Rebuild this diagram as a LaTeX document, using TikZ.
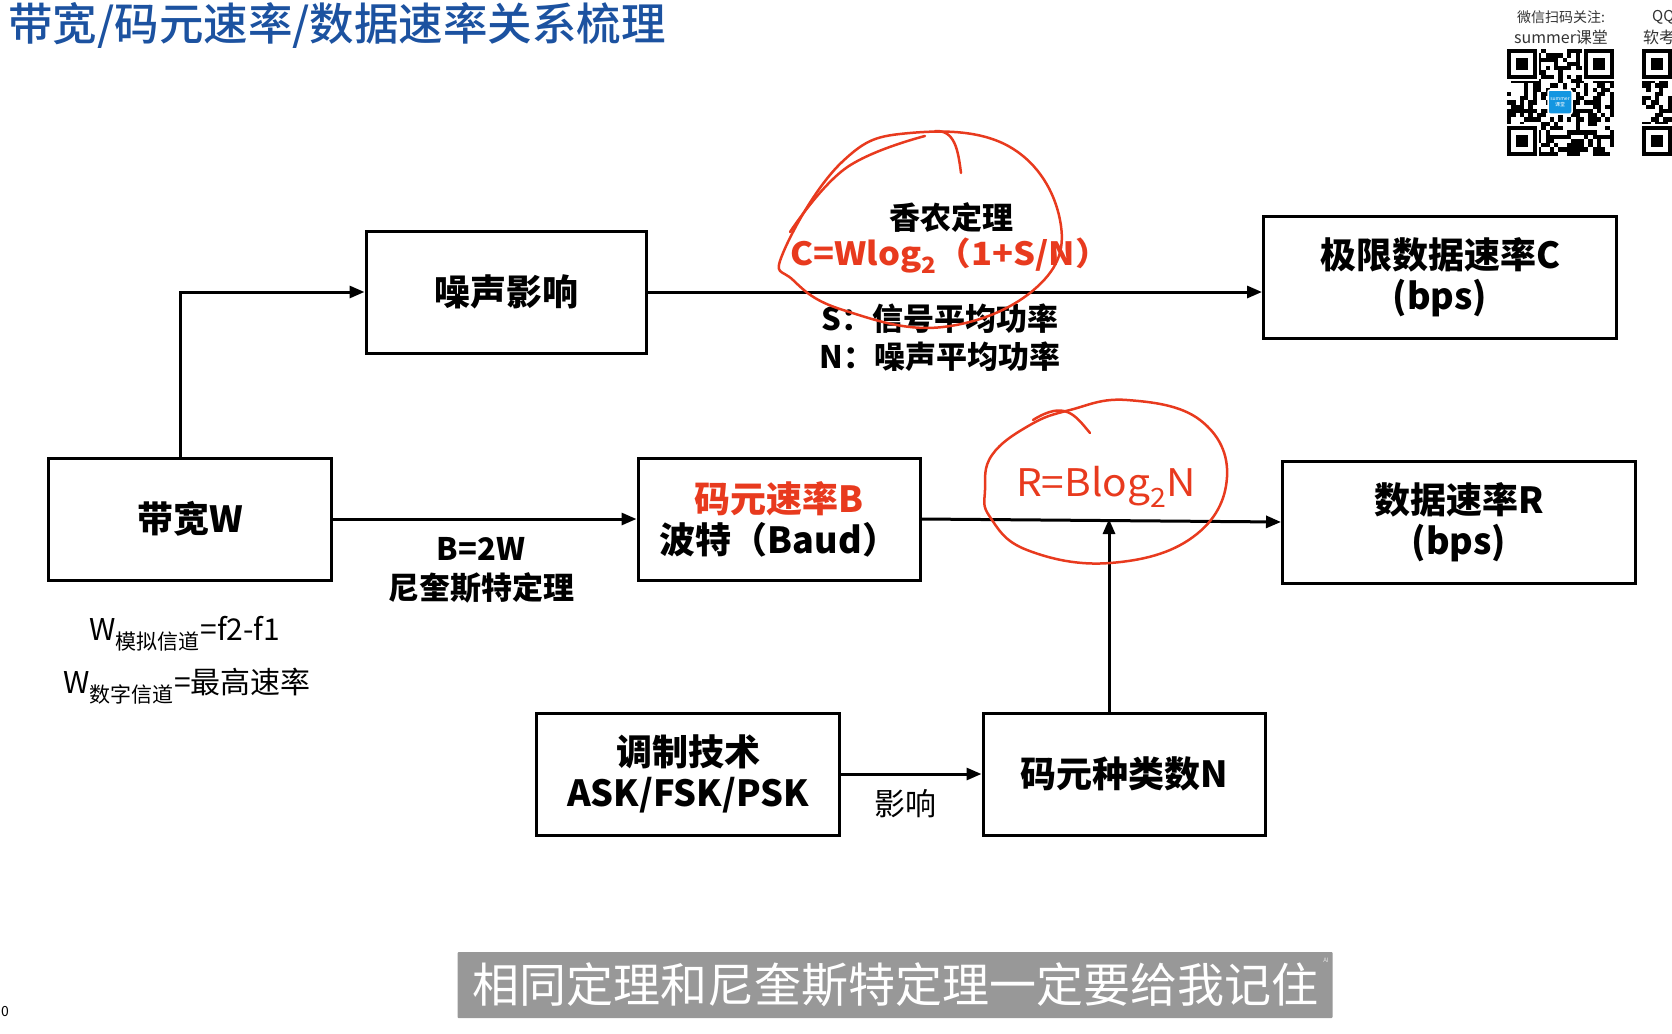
\documentclass[tikz,border=0pt]{standalone}
\usepackage{fontspec}
\setmainfont{Noto Sans CJK SC}
\newfontfamily\titlefont{Noto Sans CJK SC}[UprightFont={* Medium}]
\usetikzlibrary{arrows.meta}
\definecolor{inkred}{RGB}{232,58,30}
\definecolor{titleblue}{RGB}{28,82,160}
\definecolor{capgray}{RGB}{152,152,152}
\definecolor{logoblue}{RGB}{20,150,225}

\begin{document}
\begin{tikzpicture}[x=1pt,y=-1pt,
	>={Triangle[length=15pt,width=12pt]},
	box/.style={draw=black,line width=3pt,minimum height=122pt,align=center,inner sep=0pt,font=\fontsize{36}{41}\selectfont\bfseries},
	link/.style={->,line width=3pt},
	note/.style={align=center,inner sep=0pt,font=\fontsize{31}{38}\selectfont\bfseries},
	pen/.style={draw=inkred,line width=2.5pt,line cap=round,line join=round}]
			\useasboundingbox (0,0) rectangle (1672,1033);
			
			% title
			\node[anchor=west,inner sep=0pt,text=titleblue,font=\fontsize{44.5}{44.5}\titlefont] (title) at (8,25) {带宽/码元速率/数据速率关系梳理};
			
			% boxes
			\node[box,minimum width=280pt] (noise) at (506,292) {噪声影响};
			\node[box,minimum width=353pt] (limit) at (1440,277) {极限数据速率C\\(bps)};
			\node[box,minimum width=283pt] (bw) at (190,519) {带宽W};
			\node[box,minimum width=282pt] (baud) at (779,519) {\textcolor{inkred}{码元速率B}\\波特（Baud）};
			\node[box,minimum width=353pt] (rate) at (1459,522) {数据速率R\\(bps)};
			\node[box,minimum width=303pt] (mod) at (688,774) {调制技术\\ASK/FSK/PSK};
			\node[box,minimum width=282pt] (kind) at (1124,774) {码元种类数N};
			
			% links
			\draw[link] ([xshift=-10pt]bw.north) |- (noise.west);
			\draw[link] (noise.east) -- (noise.east -| limit.west);
			\draw[link] (bw.east) -- (baud.west);
			\draw[link] (baud.east) -- (rate.west);
			\draw[link] ([xshift=-15pt]kind.north) -- ([xshift=-15pt]kind.north |- baud.east);
			\draw[link] (mod.east) -- (kind.west);
			
			% labels
			\node[note] (shannon) at (951,218) {香农定理};
			\node[note,text=inkred,font=\fontsize{32}{38}\selectfont\bfseries] (cform) at (950,256) {\scalebox{1.08}[1]{C=Wlog\textsubscript{2}（1+S/N）}};
			\node[note] (sline) at (940,319) {S：信号平均功率};
			\node[note] (nline) at (940,357) {N：噪声平均功率};
			\node[note] (bform) at (481,549) {B=2W};
			\node[note] (nyq) at (481,588) {尼奎斯特定理};
			\node[inner sep=0pt,text=inkred,font=\fontsize{38}{38}\selectfont] (rform) at (1106,487) {\scalebox{1.07}[1]{R=Blog\textsubscript{2}N}};
			\node[inner sep=0pt,font=\fontsize{31}{31}\selectfont] (effect) at (905,804) {影响};
			\node[inner sep=0pt,font=\fontsize{30}{30}\selectfont] (wana) at (185,634) {W\textsubscript{模拟信道}=f2-f1};
			\node[inner sep=0pt,font=\fontsize{30}{30}\selectfont] (wdig) at (187,686) {W\textsubscript{数字信道}=最高速率};
			
			% red marks
			\draw[pen] plot[smooth cycle,tension=0.7] coordinates {(783,253) (842,162) (910,133) (1010,147) (1060,220) (1037,287) (943,327) (843,310) (793,280)};
			\draw[pen] plot[smooth,tension=0.7] coordinates {(790,232) (846,168) (925,136)};
			\draw[pen] (935,131) .. controls (955,130) and (958,150) .. (961,173);
			\draw[pen] plot[smooth cycle,tension=0.7] coordinates {(985,490) (992,455) (1030,425) (1070,410) (1127,400) (1200,420) (1227,477) (1193,537) (1110,563) (1027,550) (990,517)};
			\draw[pen] (1033,420) .. controls (1065,400) and (1075,415) .. (1090,433);
			
			% qr corner
			\node[inner sep=0pt,text=black!80,font=\fontsize{14}{14}\selectfont] (wx) at (1561,17) {微信扫码关注:};
			\node[inner sep=0pt,text=black!80,font=\fontsize{16}{16}\selectfont] (sc) at (1561,37) {summer课堂};
			\node[anchor=west,inner sep=0pt,text=black!80,font=\fontsize{15}{15}\selectfont] (qq) at (1652,17) {QQ};
			\node[anchor=west,inner sep=0pt,text=black!80,font=\fontsize{16}{16}\selectfont] (rk) at (1643,37) {软考};
			\pgfmathsetseed{7}
			\foreach \qx in {1507,1642} {
				\foreach \i in {0,...,24} {
					\foreach \j in {0,...,24} {
						\pgfmathtruncatemacro{\bit}{rnd<0.5}
						\ifnum\bit=1 \fill (\qx+\i*4.28,49+\j*4.28) rectangle ++(4.28,4.28); \fi
					}
				}
				\foreach \fx/\fy in {0/0,18/0,0/18} {
					\fill[white] (\qx+\fx*4.28-2,49+\fy*4.28-2) rectangle ++(34,34);
					\fill (\qx+\fx*4.28,49+\fy*4.28) rectangle ++(29.96,29.96);
					\fill[white] (\qx+\fx*4.28+4.28,49+\fy*4.28+4.28) rectangle ++(21.4,21.4);
					\fill (\qx+\fx*4.28+8.56,49+\fy*4.28+8.56) rectangle ++(12.84,12.84);
				}
			}
			\node[fill=logoblue,draw=white,line width=1.5pt,rounded corners=2pt,minimum size=24pt,inner sep=0pt,align=center,text=white,font=\fontsize{5}{6}\selectfont] (logo) at (1560,102) {summer\\课堂};
			
			% caption
			\node[fill=capgray,rounded corners=1pt,minimum width=875pt,minimum height=66pt,inner sep=0pt,text=white,font=\fontsize{47}{47}\selectfont] (cap) at (895,985) {相同定理和尼奎斯特定理一定要给我记住};
			\node[inner sep=0pt,text=white!80!gray,font=\fontsize{6}{6}\selectfont] (ai) at (1326,960) {AI};
			\node[anchor=west,inner sep=0pt,font=\fontsize{14}{14}\selectfont] (zero) at (1,1011) {0};
		\end{tikzpicture}
\end{document}
